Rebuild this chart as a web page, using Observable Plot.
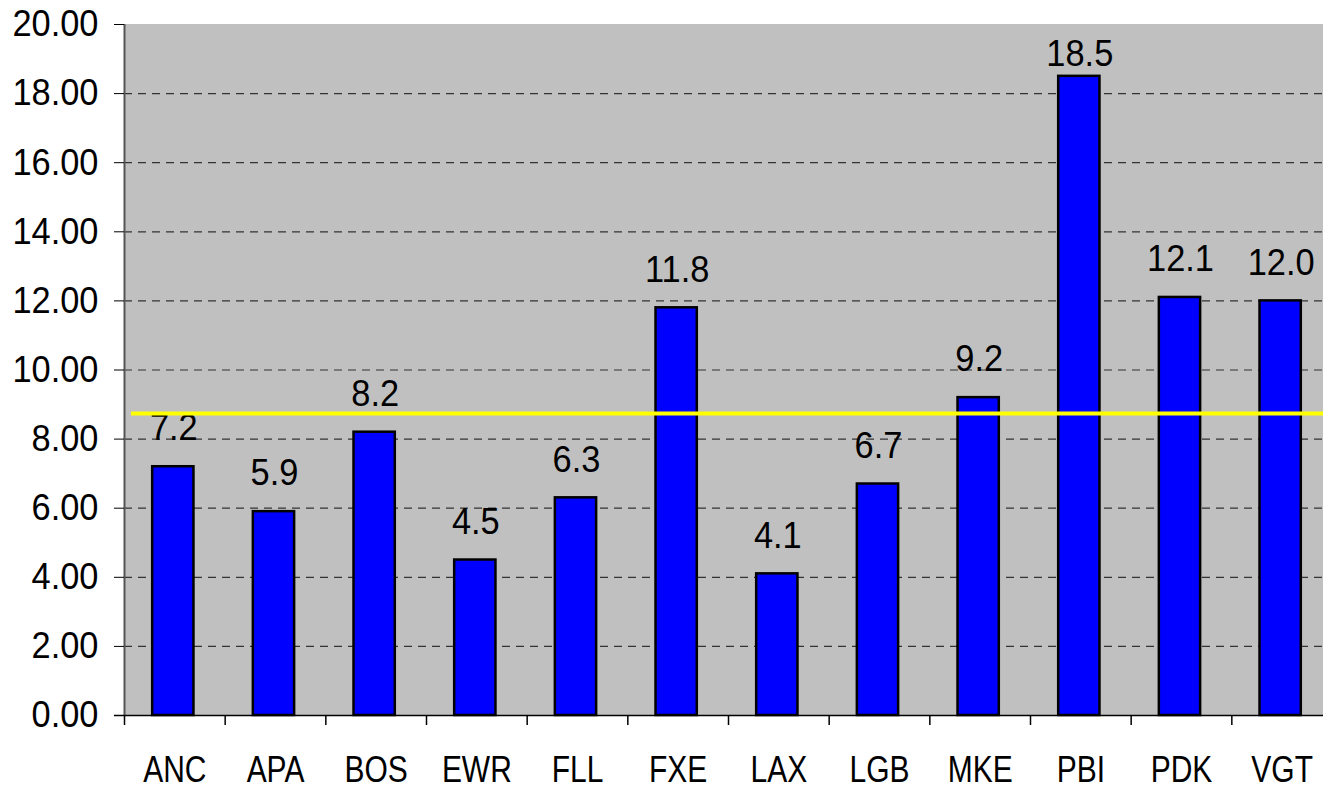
<!DOCTYPE html>
<html><head><meta charset="utf-8">
<script src="https://cdn.jsdelivr.net/npm/d3@7"></script>
<script src="https://cdn.jsdelivr.net/npm/@observablehq/plot@0.6"></script>
<style>body{margin:0;background:#fff;} svg{display:block;}</style>
</head><body><div id="chart"></div>
<script>
const categories = ["ANC","APA","BOS","EWR","FLL","FXE","LAX","LGB","MKE","PBI","PDK","VGT"];
const values = [7.2,5.9,8.2,4.5,6.3,11.8,4.1,6.7,9.2,18.5,12.1,12.0];
const average = 8.74;
const yTicks = [0,2,4,6,8,10,12,14,16,18,20];

const data = categories.map((c,i)=>({cat:c, i, v:values[i]}));
const font = "'Liberation Sans', Arial, sans-serif";
const squeezeNumbers = 0.93;
const squeezeCategories = 0.81;

const chart = Plot.plot({
  width: 1323, height: 790,
  marginLeft: 124, marginRight: -9, marginTop: 24, marginBottom: 75,
  style: {fontFamily: font, background: "#fff", overflow: "hidden"},
  x: {type: "linear", domain: [0, 12], axis: null},
  y: {type: "linear", domain: [0, 20], axis: null},
  marks: [
    Plot.rect([0], {x1: 0, x2: 12, y1: 0, y2: 20, fill: "#c0c0c0"}),
    Plot.ruleY(yTicks.filter(d => d > 0 && d < 20), {x1: 0, x2: 12, stroke: "#333", strokeDasharray: "8,6", strokeWidth: 1.2}),
    Plot.ruleX([0], {y1: 0, y2: 20, stroke: "#555", strokeWidth: 2}),
    Plot.rect(data, {x1: d => d.i + 0.28, x2: d => d.i + 0.69, y1: 0, y2: d => d.v, fill: "#0000ff", stroke: "#000", strokeWidth: 2.5}),
    Plot.text(data, {x: d => d.i + 0.49, y: d => Math.min(d.v + 0.76, 18.8), text: d => d.v.toFixed(1), lineAnchor: "bottom", fontSize: 37, fill: "#000"}),
    Plot.ruleY([average], {x1: 0.07, x2: 12, stroke: "#ffff00", strokeWidth: 4}),
    Plot.ruleY([0], {x1: -0.1, x2: 12, stroke: "#000", strokeWidth: 1.5}),
    Plot.axisY({ticks: yTicks, tickFormat: d => d.toFixed(2), tickSize: 10, tickPadding: 16, fontSize: 37, stroke: "#000", fill: "#000", label: null}),
    Plot.ruleX(d3.range(0, 13), {y1: 0, y2: -0.29, stroke: "#000", strokeWidth: 1.5}),
    Plot.text(data, {x: d => d.i + 0.5, y: 0, text: d => d.cat, dy: 55, lineAnchor: "middle", fontSize: 37, fill: "#000"})
  ]
});
// Horizontally condense text to mimic the narrow rendering of the original
chart.querySelectorAll("text").forEach(el => {
  const s = categories.includes(el.textContent.trim()) ? squeezeCategories : squeezeNumbers;
  const x = el.getAttribute("x");
  if (x != null && x !== "") el.setAttribute("x", (+x) / s);
  const t = el.getAttribute("transform") || "";
  el.setAttribute("transform", (t + ` scale(${s},1)`).trim());
});
document.getElementById("chart").append(chart);
</script></body></html>
